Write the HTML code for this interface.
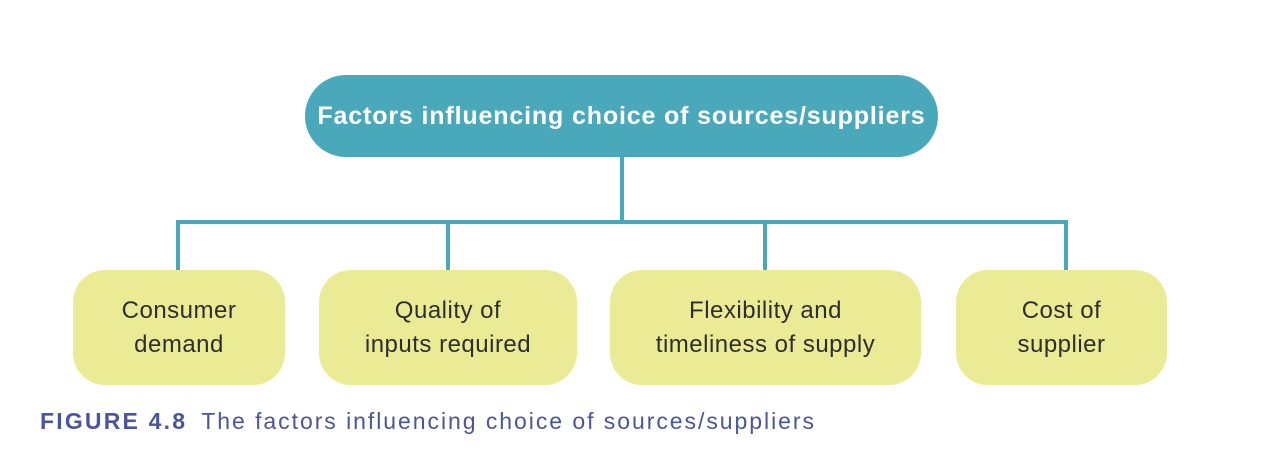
<!DOCTYPE html>
<html><head><meta charset="utf-8"><style>
body{margin:0;width:1276px;height:470px;background:#fff;position:relative;overflow:hidden;font-family:"Liberation Sans",sans-serif}
.b{position:absolute;background:#ebeb96;border-radius:32px;display:flex;align-items:center;justify-content:center;text-align:center;color:#2e2e2e;font-size:24px;line-height:34px;letter-spacing:0.5px}
.l{position:absolute;background:#4aa8bb}
</style></head><body>
<div style="position:absolute;left:305px;top:75px;width:633px;height:82px;border-radius:41px;background:#4aa8bb;color:#fff;font-weight:bold;font-size:25px;letter-spacing:0.85px;display:flex;align-items:center;justify-content:center">Factors influencing choice of sources/suppliers</div>
<div class="l" style="left:620px;top:157px;width:4px;height:67px"></div>
<div class="l" style="left:176px;top:220px;width:892px;height:4px"></div>
<div class="l" style="left:176px;top:220px;width:4px;height:50px"></div>
<div class="l" style="left:446px;top:220px;width:4px;height:50px"></div>
<div class="l" style="left:763px;top:220px;width:4px;height:50px"></div>
<div class="l" style="left:1064px;top:220px;width:4px;height:50px"></div>
<div class="b" style="left:73px;top:270px;width:212px;height:115px">Consumer<br>demand</div>
<div class="b" style="left:319px;top:270px;width:258px;height:115px">Quality of<br>inputs required</div>
<div class="b" style="left:610px;top:270px;width:311px;height:115px">Flexibility and<br>timeliness of supply</div>
<div class="b" style="left:956px;top:270px;width:211px;height:115px">Cost of<br>supplier</div>
<div style="position:absolute;left:40px;top:408px;font-size:23px;color:#4a559c;white-space:nowrap;letter-spacing:1.95px"><b style="letter-spacing:2.2px;margin-right:14px">FIGURE 4.8</b>The factors influencing choice of sources/suppliers</div>
</body></html>
